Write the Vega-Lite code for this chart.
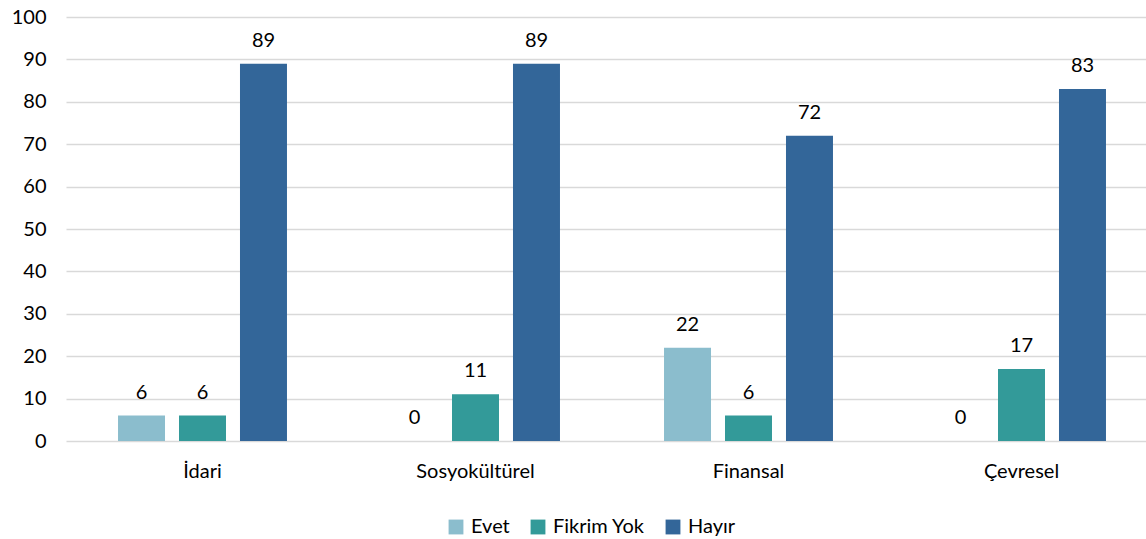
{
  "$schema": "https://vega.github.io/schema/vega-lite/v6.json",
  "width": 1080,
  "height": 424,
  "autosize": {"type": "none"},
  "padding": {"left": 66, "top": 17, "right": 0, "bottom": 98},
  "background": "white",
  "config": {
    "view": {"stroke": null},
    "font": "Lato",
    "axisX": {"domain": false, "ticks": false, "labelFontSize": 20, "labelColor": "#000000", "labelPadding": 20, "labelAngle": 0, "grid": false},
    "axisY": {"domain": false, "ticks": false, "labelFontSize": 20, "labelColor": "#000000", "labelPadding": 20, "gridColor": "#d9d9d9", "gridWidth": 1.5, "labelOverlap": false},
    "legend": {"labelFontSize": 20, "labelColor": "#000000"}
  },
  "data": {
    "values": [
      {"kategori": "İdari", "yanit": "Evet", "deger": 6},
      {"kategori": "İdari", "yanit": "Fikrim Yok", "deger": 6},
      {"kategori": "İdari", "yanit": "Hayır", "deger": 89},
      {"kategori": "Sosyokültürel", "yanit": "Evet", "deger": 0},
      {"kategori": "Sosyokültürel", "yanit": "Fikrim Yok", "deger": 11},
      {"kategori": "Sosyokültürel", "yanit": "Hayır", "deger": 89},
      {"kategori": "Finansal", "yanit": "Evet", "deger": 22},
      {"kategori": "Finansal", "yanit": "Fikrim Yok", "deger": 6},
      {"kategori": "Finansal", "yanit": "Hayır", "deger": 72},
      {"kategori": "Çevresel", "yanit": "Evet", "deger": 0},
      {"kategori": "Çevresel", "yanit": "Fikrim Yok", "deger": 17},
      {"kategori": "Çevresel", "yanit": "Hayır", "deger": 83}
    ]
  },
  "encoding": {
    "x": {
      "field": "kategori", "type": "nominal", "sort": null,
      "scale": {"padding": 0, "range": [0, 1092]},
      "axis": {"title": null}
    },
    "xOffset": {
      "field": "yanit", "type": "nominal", "sort": ["Evet", "Fikrim Yok", "Hayır"],
      "scale": {"paddingInner": 0.2295, "paddingOuter": 0.853}
    },
    "y": {
      "field": "deger", "type": "quantitative",
      "scale": {"domain": [0, 100], "nice": false},
      "axis": {"title": null, "values": [0, 10, 20, 30, 40, 50, 60, 70, 80, 90, 100]}
    }
  },
  "layer": [
    {
      "mark": {"type": "bar"},
      "encoding": {
        "color": {
          "field": "yanit", "type": "nominal",
          "sort": ["Evet", "Fikrim Yok", "Hayır"],
          "scale": {"domain": ["Evet", "Fikrim Yok", "Hayır"], "range": ["#8BBDCD", "#339A99", "#336699"]},
          "legend": {"title": null, "orient": "none", "direction": "horizontal", "legendX": 380, "legendY": 500, "symbolType": "square", "symbolSize": 220, "symbolStrokeWidth": 0, "columnPadding": 18, "labelOffset": 5}
        }
      }
    },
    {
      "mark": {"type": "text", "baseline": "bottom", "dy": -13, "fontSize": 20, "color": "#000000"},
      "encoding": {
        "text": {"field": "deger", "type": "quantitative"}
      }
    }
  ]
}
